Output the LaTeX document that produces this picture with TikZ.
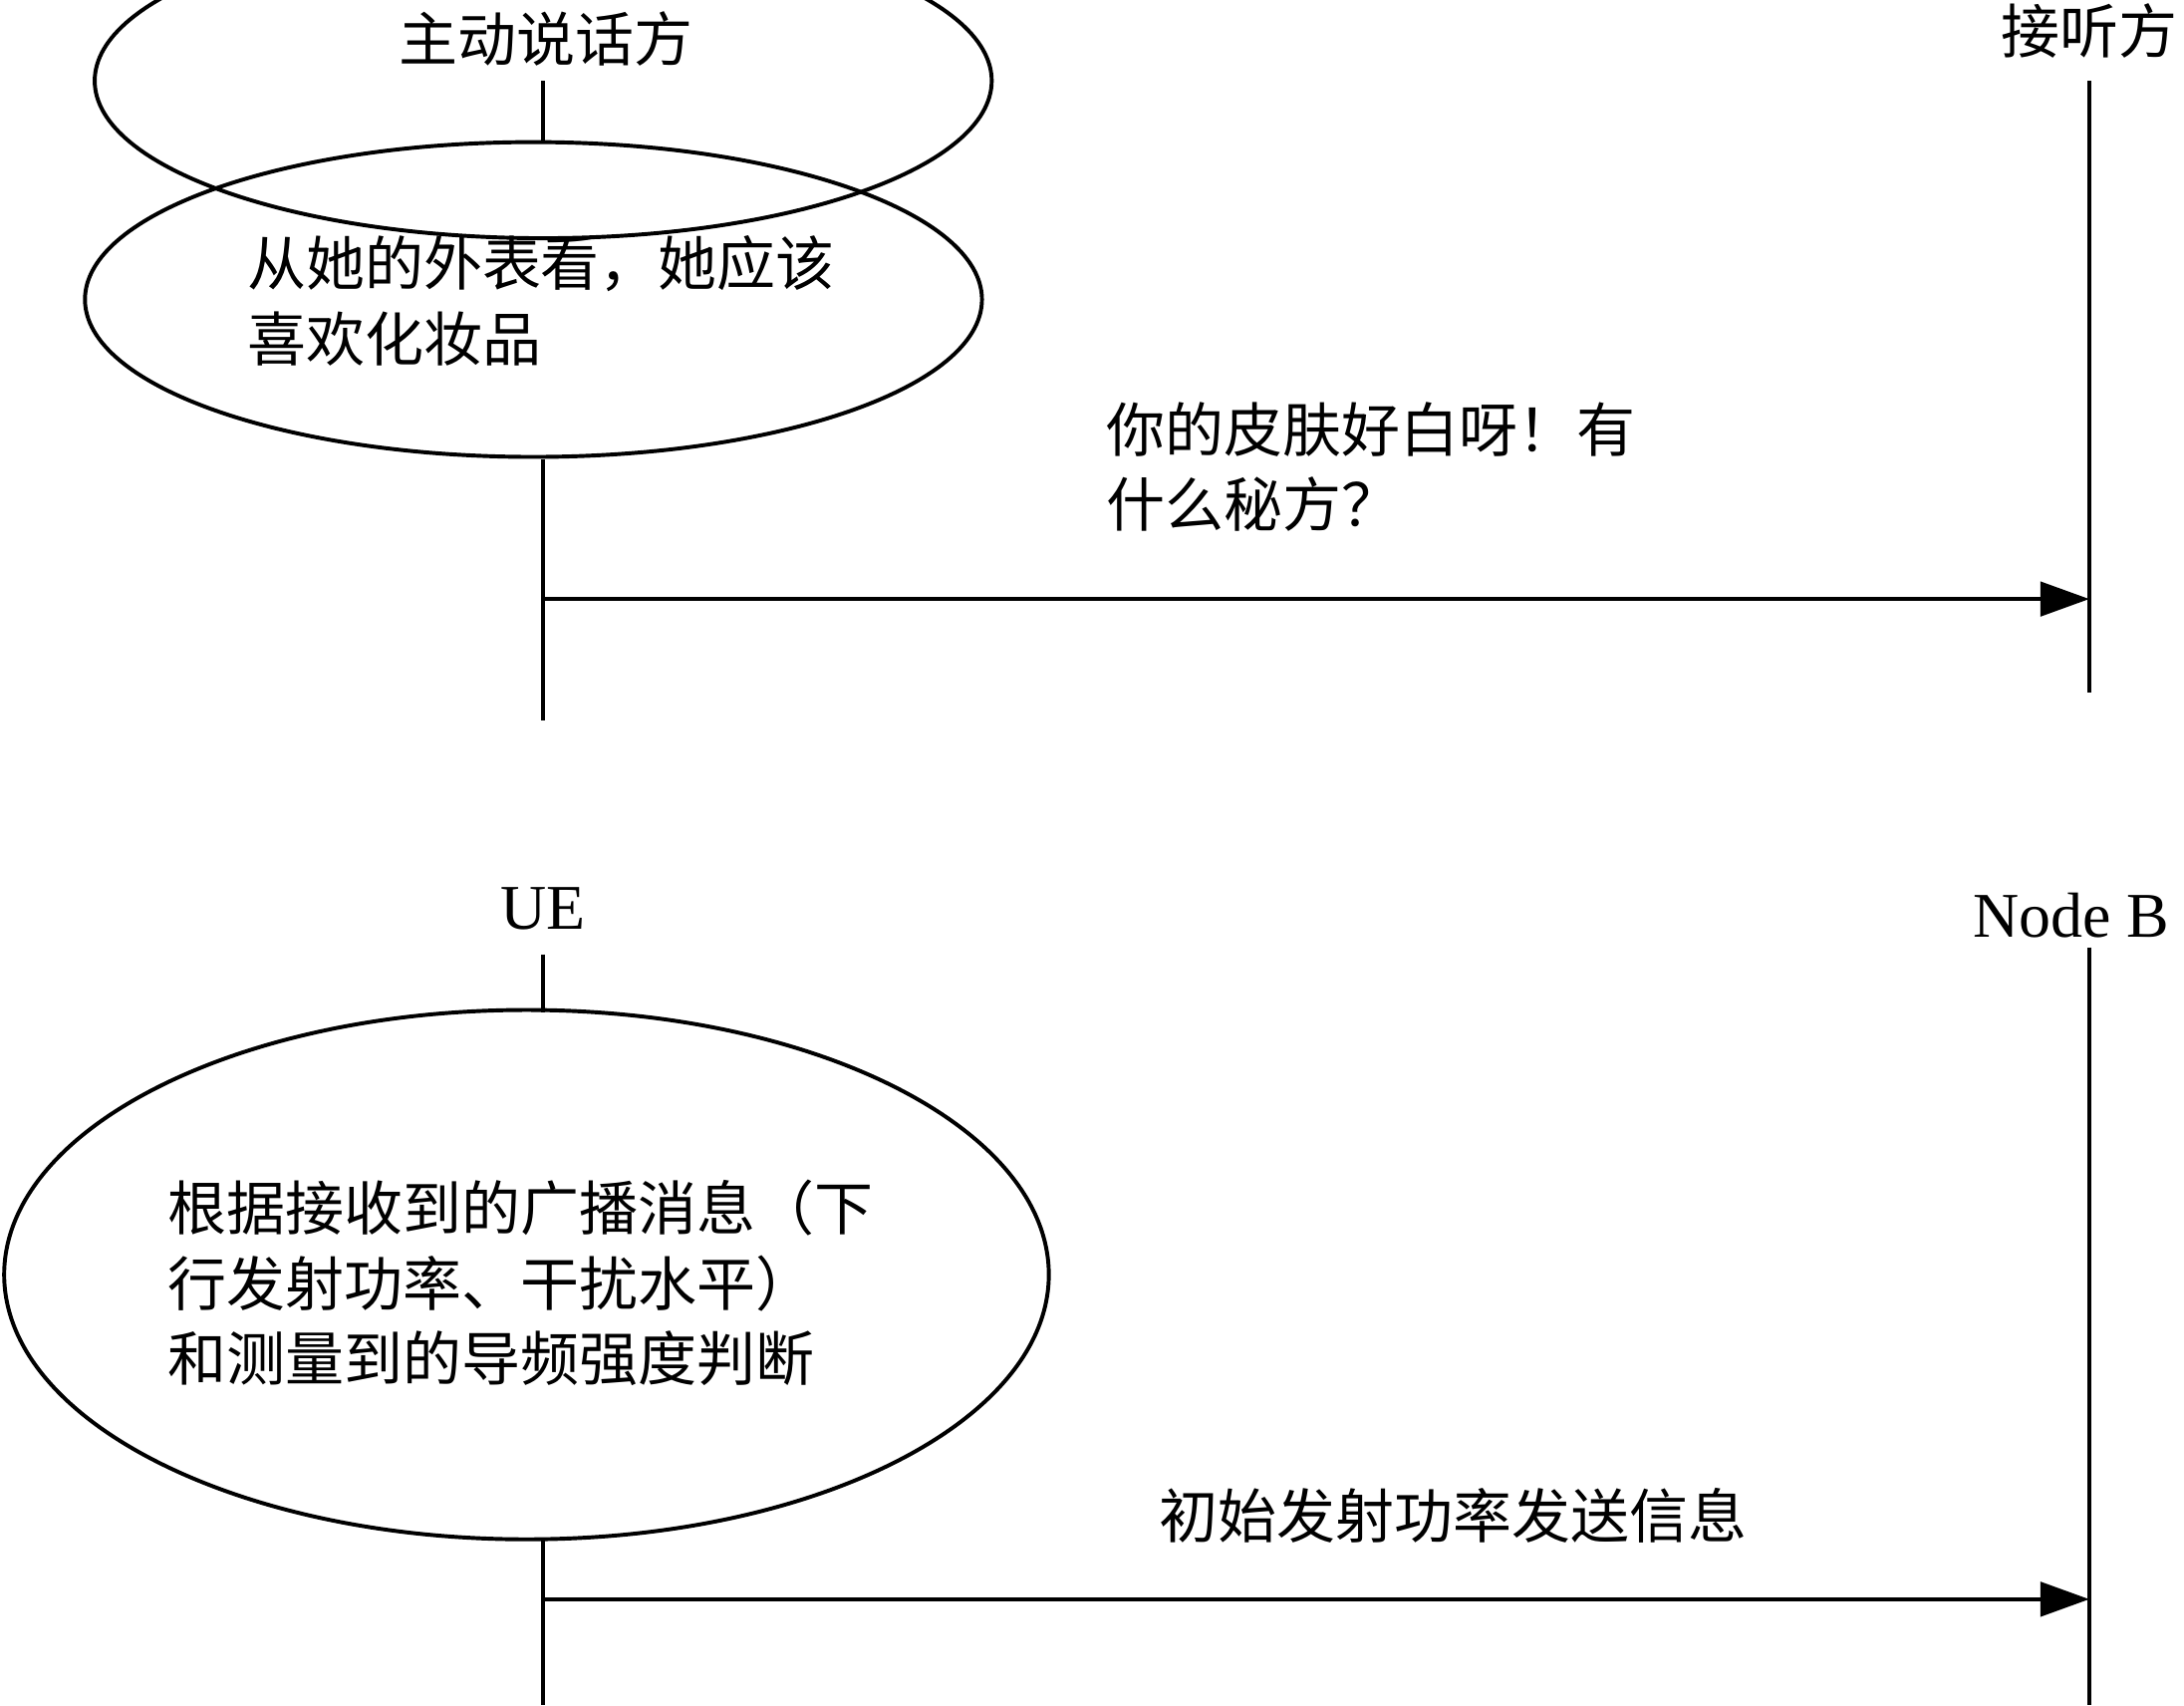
\documentclass[tikz,border=0pt]{standalone}
\usepackage{fontspec}
\setmainfont{Liberation Serif}
\newfontfamily\cjk{Noto Sans CJK SC}
\usetikzlibrary{arrows.meta,shapes.geometric}
\tikzset{
  lbl/.style={font=\cjk\fontsize{12}{15.3}\selectfont,align=left},
  life/.style={line width=0.8pt},
  msg/.style={line width=0.8pt,-{Triangle[length=10pt,width=7pt]}}
}
\begin{document}
\begin{tikzpicture}[x=0.01cm,y=-0.01cm]
\useasboundingbox (0,0) rectangle (1568,1224);
% upper part
\node[lbl] (spk) at (392,28) {主动说话方};
\node[lbl] (lis) at (1500,22) {接听方};
\draw[life] (390,58) ellipse[x radius=322,y radius=113] (383,215);
\draw[life] (383,215) ellipse[x radius=322,y radius=113];
\node[lbl,anchor=west] (th1) at (165,216) {从她的外表看，她应该\\喜欢化妆品};
\coordinate (s1) at (390,58);
\coordinate (s2) at (390,103);
\coordinate (s3) at (390,330);
\coordinate (s4) at (390,517);
\coordinate (l1) at (1500,58);
\coordinate (l2) at (1500,497);
\draw[life] (s1) -- (s2);
\draw[life] (s3) -- (s4);
\draw[life] (l1) -- (l2);
\coordinate (a1) at (390,430);
\coordinate (b1) at (1500,430);
\draw[msg] (a1) -- (b1);
\node[lbl,anchor=west] (m1) at (782,335) {你的皮肤好白呀！有\\什么秘方？};
% lower part
\node[font=\fontsize{13}{15}\selectfont] (ue) at (390,652) {UE};
\node[font=\fontsize{13}{15}\selectfont] (nb) at (1487,657) {Node B};
\draw[life] (378,915) ellipse[x radius=375,y radius=190];
\node[lbl,anchor=west] (th2) at (108,921) {根据接收到的广播消息（下\\行发射功率、干扰水平）\\和测量到的导频强度判断};
\coordinate (u1) at (390,685);
\coordinate (u2) at (390,727);
\coordinate (u3) at (390,1105);
\coordinate (u4) at (390,1224);
\coordinate (n1) at (1500,680);
\coordinate (n2) at (1500,1224);
\draw[life] (u1) -- (u2);
\draw[life] (u3) -- (u4);
\draw[life] (n1) -- (n2);
\coordinate (a2) at (390,1148);
\coordinate (b2) at (1500,1148);
\draw[msg] (a2) -- (b2);
\node[lbl] (m2) at (1043,1088) {初始发射功率发送信息};
\end{tikzpicture}
\end{document}
